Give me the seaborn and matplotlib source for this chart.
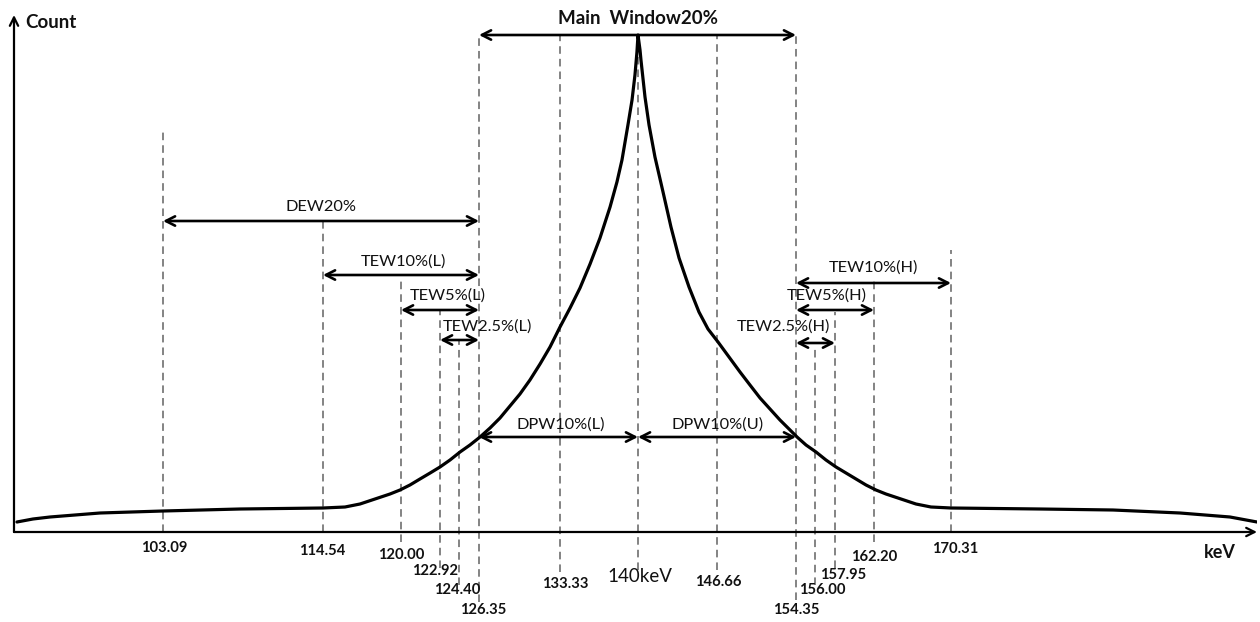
import numpy as np
import matplotlib
matplotlib.use("Agg")
import matplotlib.pyplot as plt
import seaborn as sns

# spectrum (keV, counts in arbitrary units)
spectrum_kev = [92.22, 93.41, 94.68, 96.54, 98.40, 103.09, 108.60, 114.54,
                116.08, 117.13, 118.18, 119.23, 119.93, 120.67, 121.42, 122.18, 122.92,
                123.70, 124.50, 125.47, 126.44, 127.30, 128.16, 129.02, 129.88, 130.74,
                131.61, 132.47, 133.33, 134.19, 135.04, 135.90, 136.75, 137.61, 138.20,
                138.63, 139.14, 139.49, 139.74, 139.91, 140.00,
                140.17, 140.25, 140.59, 140.93, 141.43, 142.11, 142.78, 143.46, 144.30,
                145.14, 145.90, 146.76, 147.83, 148.90, 149.87, 150.85, 151.82, 152.79,
                153.77, 154.44, 155.22, 156.10, 157.07, 158.06, 159.15, 160.24, 161.33,
                162.41, 163.46, 165.04, 166.62, 168.20, 170.31,
                179.53, 187.09, 194.03, 199.20, 202.00]
spectrum_counts = [10, 13, 15, 17, 19, 21, 23, 24,
                   25, 28, 33, 38, 42, 47, 53, 59, 65,
                   72, 80, 87, 95, 104, 114, 126, 138, 152,
                   168, 185, 205, 224, 244, 268, 294, 325, 350,
                   372, 407, 432, 457, 480, 497,
                   482, 472, 435, 407, 375, 340, 305, 274, 245,
                   220, 203, 190, 175, 160, 147, 134, 123, 112,
                   102, 95, 87, 80, 72, 65, 59, 53, 47,
                   42, 38, 33, 28, 25, 24,
                   23, 22, 19, 15, 10]

# energy marks and their labels
line_kev = [103.09, 114.54, 120.00, 122.92, 124.40, 126.35, 133.33, 140.00,
            146.66, 154.35, 156.00, 157.95, 162.20, 170.31]
line_labels = ["103.09", "114.54", "120.00", "122.92", "124.40", "126.35", "133.33", "140keV",
               "146.66", "154.35", "156.00", "157.95", "162.20", "170.31"]

# energy windows
window_names = ["Main  Window20%", "DEW20%", "TEW10%(L)", "TEW5%(L)", "TEW2.5%(L)",
                "TEW10%(H)", "TEW5%(H)", "TEW2.5%(H)", "DPW10%(L)", "DPW10%(U)"]
window_lo = [126.35, 103.09, 114.54, 120.00, 122.92, 154.35, 154.35, 154.35, 126.35, 140.00]
window_hi = [154.35, 126.35, 126.35, 126.35, 126.35, 170.31, 162.20, 157.95, 140.00, 154.35]

# --- layout (schematic axis is not linear in keV) ---
warp_kev = [92.0, 103.09, 114.54, 120.00, 122.92, 124.40, 126.35, 133.33, 140.00,
            146.66, 154.35, 156.00, 157.95, 162.20, 170.31, 202.0]
warp_pos = [14, 163, 323, 401, 440, 459, 479, 560, 638,
            717, 796, 815, 835, 874, 951, 1257]

def fwd(x):
    return np.interp(x, warp_kev, warp_pos)

def inv(x):
    return np.interp(x, warp_pos, warp_kev)

line_top = [404, 311, 254, 222, 192, 497, 497, 497, 497, 497, 187, 220, 252, 282]
line_bottom = [0, 0, -10, -36, -53, -70, -40, -38, -38, -68, -53, -36, -10, 0]
label_y = [-16, -19, -23, -39, -58, -78, -52, -45, -50, -78, -58, -43, -25, -17]
label_dx = [1, -1, 0, -5, -2, 4, 5, 2, 1, 0, 7, 8, 0, 4]

arrow_level = [497, 311, 257, 222, 192, 249, 222, 189, 95, 95]
name_level = [514, 325, 270, 236, 205, 264, 236, 205, 107, 107]
name_dx = [1, 0, 2, 8, 28, 0, -8, -32, 2, 1]

sns.set_theme(style="white")
plt.rcParams["font.family"] = ["Lato", "DejaVu Sans"]

fig = plt.figure(figsize=(12.6, 6.22), dpi=100)
ax = fig.add_axes([14 / 1260, 90 / 622, (1257 - 14) / 1260, (607 - 90) / 622])
ax.set_xscale("function", functions=(fwd, inv))

# dashed guide lines
vl = ax.vlines(line_kev, line_bottom, line_top, colors="#7a7a7a",
               linestyles=(0, (4.2, 2.8)), linewidth=1.3)
vl.set_clip_on(False)

# spectrum
sns.lineplot(x=spectrum_kev, y=spectrum_counts, color="black", linewidth=2.3, ax=ax)

# window arrows and names
for name, lo, hi, lvl, nlvl, dx in zip(window_names, window_lo, window_hi,
                                        arrow_level, name_level, name_dx):
    ax.annotate("", xy=(hi, lvl), xytext=(lo, lvl),
                arrowprops=dict(arrowstyle="<->,head_length=0.55,head_width=0.28",
                                lw=1.9, color="black", shrinkA=0, shrinkB=0))
    mid = inv((fwd(lo) + fwd(hi)) / 2)
    main = name.startswith("Main")
    ax.annotate(name, xy=(mid, nlvl), xytext=(dx * 0.72, 0), textcoords="offset points",
                ha="center", va="center",
                fontsize=13.5 if main else 11.8,
                fontweight="bold" if main else "normal", color="#111111")

# energy labels under the axis
for e, lab, ly, dx in zip(line_kev, line_labels, label_y, label_dx):
    big = lab.endswith("keV")
    ax.annotate(lab, xy=(e, ly), xytext=(dx * 0.72, 0), textcoords="offset points",
                ha="center", va="center", fontsize=13.5 if big else 10.6,
                fontweight="bold" if not big else "normal", color="#111111",
                annotation_clip=False)

ax.set_xlim(92.0, 202.0)
ax.set_ylim(0, 517)
ax.set_xticks([])
ax.set_yticks([])
for s in ax.spines.values():
    s.set_visible(False)

# axis arrows
ax.annotate("", xy=(1, 0), xytext=(0, 0), xycoords="axes fraction",
            arrowprops=dict(arrowstyle="->,head_length=0.5,head_width=0.25",
                            lw=1.6, color="black", shrinkA=0, shrinkB=0))
ax.annotate("", xy=(0, 1), xytext=(0, 0), xycoords="axes fraction",
            arrowprops=dict(arrowstyle="->,head_length=0.5,head_width=0.25",
                            lw=1.6, color="black", shrinkA=0, shrinkB=0))

ax.text(0.009, 0.985, "Count", transform=ax.transAxes, ha="left", va="center",
        fontsize=13.5, fontweight="bold", color="#111111")
ax.text(0.970, -0.04, "keV", transform=ax.transAxes, ha="center", va="center",
        fontsize=13, fontweight="bold", color="#111111")

fig.savefig("out.png", dpi=100)
